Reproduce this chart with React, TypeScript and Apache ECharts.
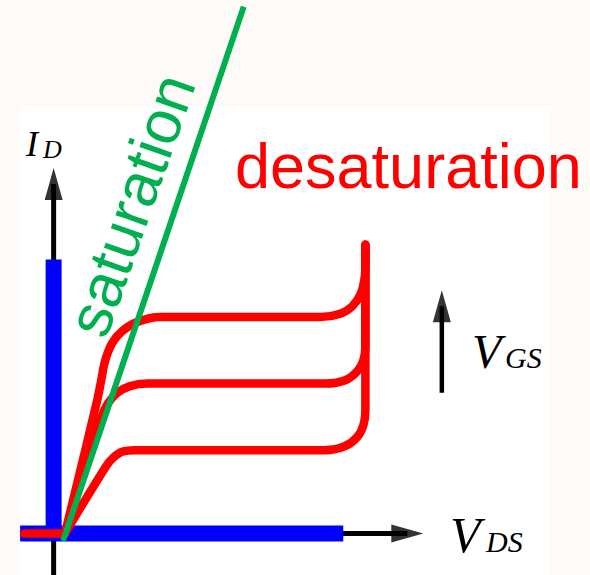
import { useEffect, useRef } from "react";
import * as echarts from "echarts";

// Output characteristics of a power transistor, arbitrary units:
// x = V_DS, y = I_D. Three gate-voltage curves, high to low.
const cutoffBranch = [[-0.88, 0], [0.34, 0]];
const curveHighVgs = [
  [0.34, 0], [1.3, 16.0], [1.42, 18.4], [1.54, 20.8], [1.75, 22.9], [2.04, 24.3],
  [2.49, 25.4], [3.18, 26], [7.96, 26], [8.55, 26.4], [8.91, 27.3], [9.15, 28.7],
  [9.27, 30.5], [9.3, 32.5], [9.3, 34.7],
];
const curveMidVgs = [
  [0.34, 0], [1.42, 13.9], [1.63, 15.7], [1.9, 16.9], [2.28, 17.7], [2.79, 18],
  [8.1, 18], [8.7, 18.4], [9.06, 19.5], [9.24, 20.8], [9.3, 22.6], [9.3, 34.7],
];
const curveLowVgs = [
  [0.34, 0], [1.57, 8.1], [1.78, 9.1], [2.04, 9.8], [2.43, 10], [8.1, 10],
  [8.7, 10.5], [9.06, 11.6], [9.24, 13], [9.3, 14.8], [9.3, 34.7],
];
// Boundary between the two regions
const saturationLine = [[0.28, -0.9], [5.67, 63.3]];
// Highlighted axis segments
const blueBarVds = [[-1, 0], [8.64, 0]];
const blueBarId = [[0, 0], [0, 32.9]];
// Axis shafts and the V_GS direction arrow
const axisVds = [[-1, 0], [10.55, 0]];
const axisId = [[0, -5], [0, 42]];
const arrowVgs = [[11.58, 16.9], [11.58, 27.3]];
const arrowHeads = [
  { value: [10.55, 0], symbolRotate: -90 },
  { value: [0, 42], symbolRotate: 0 },
  { value: [11.58, 27.3], symbolRotate: 0 },
];

const RED = "#ff0000";
const BLUE = "#0000ff";
const GREEN = "#00b050";

const serif = '"Liberation Serif", "Times New Roman", serif';
const sans = '"Liberation Sans", Arial, sans-serif';

function lineSeries(data: number[][], color: string, width: number, extra: object = {}) {
  return {
    type: "line",
    data,
    symbol: "none",
    showSymbol: false,
    silent: true,
    lineStyle: { color, width, cap: "round", join: "round" },
    ...extra,
  };
}

function txt(text: string, x: number, y: number, font: string, fill: string, extra: object = {}) {
  return {
    type: "text",
    x,
    y,
    z: 10,
    silent: true,
    style: {
      text,
      font,
      fill,
      align: "left",
      verticalAlign: "middle",
      textAlign: "left",
      textVerticalAlign: "middle",
    },
    ...extra,
  };
}

export default function App() {
  const ref = useRef<HTMLDivElement>(null);

  useEffect(() => {
    const chart = echarts.init(ref.current!, null, { renderer: "svg" });
    chart.setOption({
      animation: false,
      backgroundColor: "#fefaf7",
      grid: { left: 0, right: 0, top: 0, bottom: 0 },
      xAxis: { type: "value", min: -1.6, max: 16, show: false },
      yAxis: { type: "value", min: -5, max: 64.1, show: false },
      graphic: [
        {
          type: "rect",
          z: -10,
          silent: true,
          shape: { x: 20, y: 106, width: 531, height: 469 },
          style: { fill: "#ffffff" },
        },
        txt("I", 26, 144, `italic 36px ${serif}`, "#000"),
        txt("D", 43, 149, `italic 26px ${serif}`, "#000"),
        txt("V", 450, 535, `italic 50px ${serif}`, "#000"),
        txt("DS", 486, 541, `italic 30px ${serif}`, "#000"),
        txt("V", 472, 351, `italic 48px ${serif}`, "#000"),
        txt("GS", 505, 357, `italic 30px ${serif}`, "#000"),
        txt("desaturation", 235, 166, `63px ${sans}`, RED),
        {
          type: "text",
          x: 131,
          y: 205,
          z: 10,
          silent: true,
          rotation: (70.6 * Math.PI) / 180,
          style: {
            text: "saturation",
            font: `62px ${sans}`,
            fill: GREEN,
            align: "center",
            verticalAlign: "middle",
            textAlign: "center",
            textVerticalAlign: "middle",
          },
        },
      ],
      series: [
        lineSeries(axisVds, "#000", 5, { lineStyle: { color: "#000", width: 5, cap: "butt" } }),
        lineSeries(axisId, "#000", 5, { lineStyle: { color: "#000", width: 5, cap: "butt" } }),
        lineSeries(arrowVgs, "#000", 4.5, { lineStyle: { color: "#000", width: 4.5, cap: "butt" } }),
        {
          type: "scatter",
          data: arrowHeads,
          symbol: "triangle",
          symbolSize: [18, 32],
          silent: true,
          itemStyle: { color: "#000" },
        },
        lineSeries(blueBarVds, BLUE, 16, { lineStyle: { color: BLUE, width: 16, cap: "butt" } }),
        lineSeries(blueBarId, BLUE, 16, { lineStyle: { color: BLUE, width: 16, cap: "butt" } }),
        lineSeries(cutoffBranch, RED, 8.5),
        lineSeries(curveLowVgs, RED, 8.5, { smooth: 0.35 }),
        lineSeries(curveMidVgs, RED, 8.5, { smooth: 0.35 }),
        lineSeries(curveHighVgs, RED, 8.5, { smooth: 0.35 }),
        lineSeries(saturationLine, GREEN, 6, {
          clip: false,
          lineStyle: { color: GREEN, width: 6, cap: "butt" },
        }),
      ],
    });
    return () => chart.dispose();
  }, []);

  return (
    <div
      ref={ref}
      style={{ position: "fixed", left: 0, top: 0, width: 590, height: 575 }}
    />
  );
}
